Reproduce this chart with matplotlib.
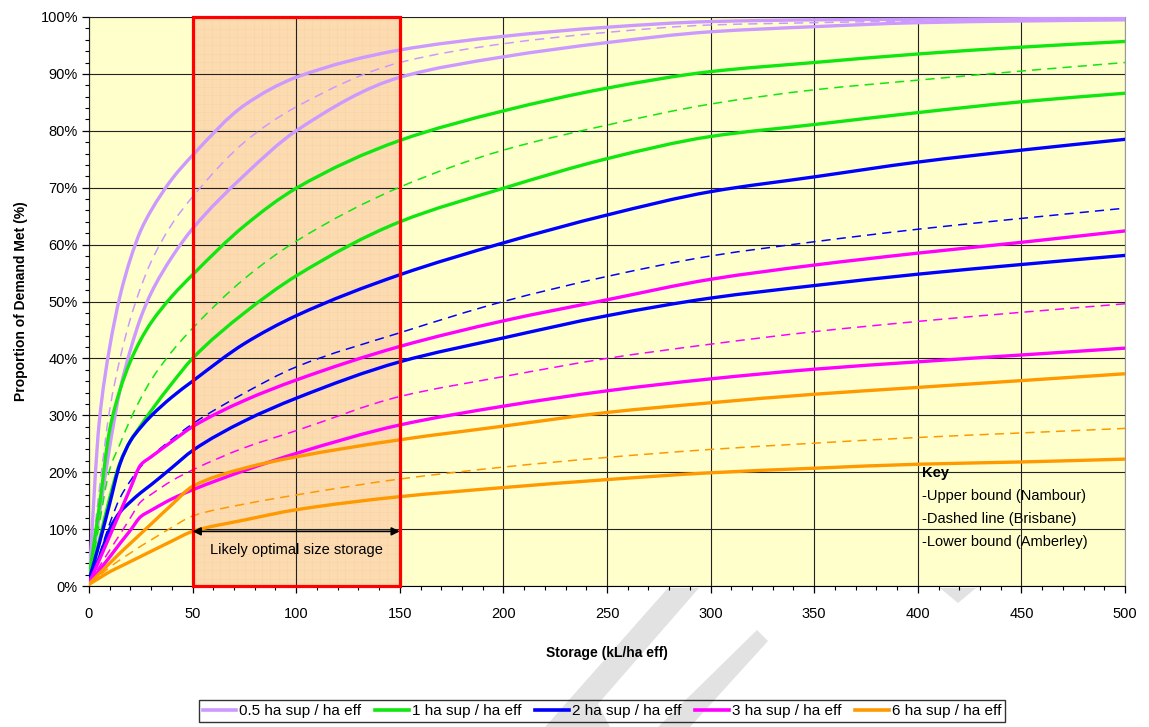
import matplotlib
matplotlib.use("Agg")
import matplotlib.pyplot as plt
from matplotlib.patches import Rectangle, Polygon, PathPatch
from matplotlib.path import Path
from matplotlib.lines import Line2D
from matplotlib.ticker import MultipleLocator, PercentFormatter

plt.rcParams['font.family'] = ['Liberation Sans', 'DejaVu Sans']
plt.rcParams['hatch.linewidth'] = 0.2

# storage per effective hectare (kL/ha eff)
storage = [0, 5, 10, 15, 20, 25, 30, 40, 50, 75, 100, 150, 200, 250, 300, 350, 400, 450, 500]

# proportion of demand met (%) - upper bound (Nambour), dashed (Brisbane), lower bound (Amberley)
half_upper = [1, 29, 42, 51, 57.5, 62.5, 66, 71.5, 75.7, 84.5, 89.4, 94.2, 96.6, 98.2, 99.2, 99.5, 99.6, 99.7, 99.8]
half_mid = [0.5, 17, 31, 40, 47, 52.5, 57, 63.6, 68.4, 78, 84.2, 92, 95.3, 97.3, 98.6, 99.0, 99.3, 99.5, 99.7]
half_lower = [0.5, 12.5, 24.5, 34.5, 41.5, 47.2, 51.5, 57.8, 62.8, 72.2, 80, 89.4, 93, 95.5, 97.4, 98.3, 99.0, 99.3, 99.5]

one_upper = [1.5, 14, 27.5, 34.5, 39.5, 43.3, 46.3, 50.9, 54.7, 63.3, 69.9, 78.3, 83.5, 87.5, 90.4, 92, 93.5, 94.7, 95.7]
one_mid = [1, 11, 20.5, 25, 29.3, 33, 36.2, 41.2, 45.3, 54, 60.6, 70.1, 76.6, 81, 84.7, 87.2, 88.9, 90.5, 92]
one_lower = [1, 8, 15.5, 21.7, 25.5, 28.2, 30.8, 35.6, 40, 48, 54.5, 64, 69.9, 75.1, 79, 81.1, 83.2, 85.1, 86.6]

two_upper = [1, 7.5, 14.5, 21.5, 25.5, 27.9, 29.9, 33.2, 36, 42.6, 47.5, 54.7, 60.3, 65.2, 69.3, 71.9, 74.5, 76.6, 78.5]
two_mid = [0.5, 5.5, 11, 15.5, 18.5, 21, 22.8, 25.8, 28.5, 33.9, 38.5, 44.5, 50, 54.4, 58, 60.5, 62.7, 64.6, 66.4]
two_lower = [0.5, 5, 10, 13, 14.8, 16.4, 17.8, 20.8, 23.8, 29, 33, 39.4, 43.6, 47.5, 50.6, 52.8, 54.8, 56.5, 58.1]

three_upper = [0.5, 4.6, 8.8, 13, 17.2, 21.3, 22.7, 25.4, 28, 32.6, 36.2, 42.1, 46.6, 50.3, 53.9, 56.4, 58.5, 60.4, 62.4]
three_mid = [0.5, 3.4, 6.3, 9.1, 12, 14.8, 16.1, 18.5, 20.4, 24.3, 27.3, 33.3, 36.8, 40, 42.5, 44.7, 46.5, 48.1, 49.6]
three_lower = [0.5, 2.8, 5.1, 7.5, 9.8, 12.2, 13.3, 15.3, 16.9, 20.3, 23.3, 28.3, 31.6, 34.3, 36.4, 38.1, 39.4, 40.6, 41.8]

six_upper = [0.3, 2.2, 4.0, 5.8, 7.5, 9.2, 10.9, 14.3, 17.5, 20.7, 22.7, 25.7, 28.1, 30.5, 32.2, 33.7, 34.9, 36.1, 37.3]
six_mid = [0.3, 1.8, 3.3, 4.6, 5.8, 7, 8.1, 10.3, 12.3, 14.4, 16, 18.8, 20.9, 22.6, 24, 25.1, 26.1, 26.9, 27.7]
six_lower = [0.3, 1.4, 2.5, 3.4, 4.3, 5.2, 6.1, 7.9, 9.6, 11.6, 13.4, 15.7, 17.3, 18.7, 19.9, 20.7, 21.4, 21.8, 22.3]

series_labels = ['0.5 ha sup / ha eff', '1 ha sup / ha eff', '2 ha sup / ha eff',
                 '3 ha sup / ha eff', '6 ha sup / ha eff']
colors = ['#CC99FF', '#11E611', '#0000FF', '#FF00FF', '#FF9900']
groups = [(half_upper, half_mid, half_lower),
          (one_upper, one_mid, one_lower),
          (two_upper, two_mid, two_lower),
          (three_upper, three_mid, three_lower),
          (six_upper, six_mid, six_lower)]

optimal_range = [50, 150]

W, H = 1149, 727
fig = plt.figure(figsize=(W / 100, H / 100), dpi=100)


def px_poly(points, **kw):
    # polygon given in pixel coords (origin top-left)
    pts = [(x / W, 1 - y / H) for x, y in points]
    return Polygon(pts, closed=True, transform=fig.transFigure, **kw)


def smooth_path(xs, ys):
    # smoothed line through every point: shape-preserving cubic segments drawn as beziers
    n = len(xs)
    h = [xs[i + 1] - xs[i] for i in range(n - 1)]
    d = [(ys[i + 1] - ys[i]) / h[i] for i in range(n - 1)]
    m = [d[0]] + [0.0] * (n - 2) + [d[-1]]
    for i in range(1, n - 1):
        if d[i - 1] * d[i] > 0:
            w1, w2 = 2 * h[i] + h[i - 1], h[i] + 2 * h[i - 1]
            m[i] = (w1 + w2) / (w1 / d[i - 1] + w2 / d[i])
    verts = [(xs[0], ys[0])]
    codes = [Path.MOVETO]
    for i in range(n - 1):
        verts += [(xs[i] + h[i] / 3, ys[i] + m[i] * h[i] / 3),
                  (xs[i + 1] - h[i] / 3, ys[i + 1] - m[i + 1] * h[i] / 3),
                  (xs[i + 1], ys[i + 1])]
        codes += [Path.CURVE4] * 3
    return Path(verts, codes)


# faint watermark strokes behind the chart
for shape in ([(545, 727), (668, 588), (699, 588), (598, 704), (610, 727)],
              [(658, 727), (757, 630), (768, 641), (690, 727)],
              [(940, 588), (958, 603), (976, 588)]):
    fig.patches.append(px_poly(shape, facecolor='#E2E2E2', edgecolor='none', zorder=-5))

ax = fig.add_axes([89 / W, 1 - 586 / H, (1125 - 89) / W, (586 - 17) / H])
ax.set_facecolor('#FFFFCC')

# shaded optimal storage band
ax.add_patch(Rectangle((optimal_range[0], 0), optimal_range[1] - optimal_range[0], 100,
                       facecolor='#FCDBB0', edgecolor='#F6CDA0', hatch='++',
                       linewidth=0, zorder=0.5))
ax.add_patch(Rectangle((optimal_range[0], 0), optimal_range[1] - optimal_range[0], 100,
                       facecolor='none', edgecolor='#FF0000', linewidth=2.3, zorder=5,
                       clip_on=False))

ax.grid(True, which='major', color='#222222', linewidth=0.8, zorder=1)
ax.set_axisbelow(False)

for color, (up, mid, low) in zip(colors, groups):
    ax.add_patch(PathPatch(smooth_path(storage, up), fill=False, edgecolor=color,
                           linewidth=2.4, capstyle='round', zorder=3))
    ax.add_patch(PathPatch(smooth_path(storage, mid), fill=False, edgecolor=color,
                           linewidth=1.1, linestyle=(0, (6, 4)), zorder=3))
    ax.add_patch(PathPatch(smooth_path(storage, low), fill=False, edgecolor=color,
                           linewidth=2.4, capstyle='round', zorder=3))

ax.set_xlim(0, 500)
ax.set_ylim(0, 100)
ax.xaxis.set_major_locator(MultipleLocator(50))
ax.xaxis.set_minor_locator(MultipleLocator(10))
ax.yaxis.set_major_locator(MultipleLocator(10))
ax.yaxis.set_minor_locator(MultipleLocator(2))
ax.yaxis.set_major_formatter(PercentFormatter(decimals=0))
ax.tick_params(which='major', length=5, width=0.9, labelsize=10.5)
ax.tick_params(axis='x', which='major', pad=10)
ax.tick_params(axis='y', which='major', pad=3)
ax.tick_params(which='minor', length=3, width=0.8)

for side in ('top', 'right'):
    ax.spines[side].set_color('#999999')
for side in ('left', 'bottom'):
    ax.spines[side].set_color('black')

ax.set_xlabel('Storage (kL/ha eff)', fontsize=10, fontweight='bold', labelpad=18)
ax.set_ylabel('Proportion of Demand Met (%)', fontsize=10, fontweight='bold', labelpad=9)

# arrow and caption for the optimal band
ax.annotate('', xy=(optimal_range[0], 9.6), xytext=(optimal_range[1], 9.6),
            arrowprops=dict(arrowstyle='<|-|>', color='black', lw=1.2,
                            shrinkA=0, shrinkB=0, mutation_scale=12), zorder=6)
ax.text(100, 6.4, 'Likely optimal size storage', ha='center', va='center', fontsize=10.5, zorder=6)

# key
ax.text(402, 19.8, 'Key', fontsize=10.5, fontweight='bold', va='center', zorder=6)
for yk, txt in zip([15.8, 11.8, 7.7],
                   ['-Upper bound (Nambour)', '-Dashed line (Brisbane)', '-Lower bound (Amberley)']):
    ax.text(402, yk, txt, fontsize=10.5, va='center', zorder=6)

handles = [Line2D([0], [0], color=c, linewidth=2.6) for c in colors]
fig.legend(handles, series_labels, loc='center', bbox_to_anchor=(602 / W, 1 - 711 / H),
           ncol=5, frameon=True, fancybox=False, edgecolor='black', facecolor='none',
           handlelength=2.2, handletextpad=0.2, columnspacing=0.9, borderpad=0.25,
           prop={'family': ['Liberation Sans Narrow', 'Liberation Sans'], 'size': 11})

fig.savefig('out.png', dpi=100)
